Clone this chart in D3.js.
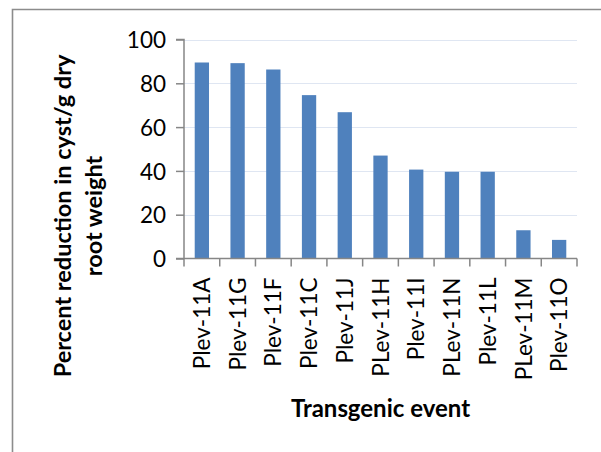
<!DOCTYPE html>
<html>
<head>
<meta charset="utf-8">
<script src="https://cdn.jsdelivr.net/npm/d3@7"></script>
<style>
  html, body { margin: 0; padding: 0; background: #fff; }
  svg { display: block; }
</style>
</head>
<body>
<svg id="chart" width="601" height="452"></svg>
<script>
const categories = ["Plev-11A","Plev-11G","Plev-11F","Plev-11C","Plev-11J","PLev-11H","Plev-11I","PLev-11N","Plev-11L","PLev-11M","Plev-11O"];
const values = [89.5, 89.2, 86.3, 74.6, 66.8, 47.0, 40.6, 39.6, 39.6, 12.9, 8.5];
const yTicks = [0, 20, 40, 60, 80, 100];
const xTitle = "Transgenic event";
const yTitleLines = ["Percent reduction in cyst/g dry", "root weight"];

const FONT = "Lato, 'Open Sans', sans-serif";
const svg = d3.select("#chart");
const m = {left: 184, right: 577, top: 39.5, bottom: 258.5};

// frame
svg.append("path")
  .attr("d", "M12.5,452 L12.5,9.5 L601,9.5")
  .attr("fill", "none").attr("stroke", "#8c8c8c").attr("stroke-width", 1.6);

const x = d3.scaleBand().domain(categories).range([m.left, m.right]).paddingInner(0.6).paddingOuter(0.3);
const xb = d3.scaleBand().domain(categories).range([m.left, m.right]);
const y = d3.scaleLinear().domain([0, 100]).range([m.bottom, m.top]);

// gridlines
svg.append("g").selectAll("line").data(yTicks.filter(d => d > 0)).join("line")
  .attr("x1", m.left).attr("x2", m.right)
  .attr("y1", d => Math.round(y(d)) + 0.5).attr("y2", d => Math.round(y(d)) + 0.5)
  .attr("stroke", "#dfe6f2").attr("stroke-width", 1.2);

// bars
svg.append("g").selectAll("rect").data(values).join("rect")
  .attr("x", (d, i) => x(categories[i]))
  .attr("width", x.bandwidth())
  .attr("y", d => y(d))
  .attr("height", d => y(0) - y(d))
  .attr("fill", "#4f81bd");

// y axis
const yAxis = d3.axisLeft(y).tickValues(yTicks).tickSize(8).tickPadding(10).tickFormat(d3.format("d"));
const gy = svg.append("g").attr("transform", `translate(${m.left},0)`).call(yAxis);
gy.select(".domain").attr("stroke", "#868686").attr("stroke-width", 1.5).attr("d", `M-8,${m.top}H0V${m.bottom}`);
gy.selectAll(".tick line").attr("stroke", "#868686").attr("stroke-width", 1.5);
gy.selectAll(".tick text").attr("font-family", FONT).attr("font-size", 22.5).attr("fill", "#000").attr("dy", "0.36em");

// x axis
const gx = svg.append("g").attr("transform", `translate(0,${m.bottom})`);
gx.append("line").attr("x1", m.left - 8).attr("x2", m.right).attr("y1", 0).attr("y2", 0)
  .attr("stroke", "#868686").attr("stroke-width", 1.5);
const bounds = categories.map(c => xb(c)).concat([m.right]);
gx.selectAll("line.tk").data(bounds).join("line").attr("class", "tk")
  .attr("x1", d => d).attr("x2", d => d).attr("y1", 0).attr("y2", 8)
  .attr("stroke", "#868686").attr("stroke-width", 1.5);
gx.selectAll("text").data(categories).join("text")
  .attr("transform", d => `translate(${xb(d) + xb.bandwidth() / 2},19) rotate(-90)`)
  .attr("text-anchor", "end").attr("dy", "0.36em")
  .attr("font-family", FONT).attr("font-size", 22.5).attr("fill", "#000")
  .text(d => d);

// x title
svg.append("text").attr("x", (m.left + m.right) / 2).attr("y", 417)
  .attr("text-anchor", "middle").attr("font-family", FONT).attr("font-weight", "bold")
  .attr("font-size", 24).attr("fill", "#000").text(xTitle);

// y title
const yt = svg.append("text").attr("transform", "translate(71,216) rotate(-90)")
  .attr("text-anchor", "middle").attr("font-family", FONT).attr("font-weight", "bold")
  .attr("font-size", 23.5).attr("fill", "#000");
yTitleLines.forEach((t, i) => yt.append("tspan").attr("x", 0).attr("y", i * 31).text(t));
</script>
</body>
</html>
